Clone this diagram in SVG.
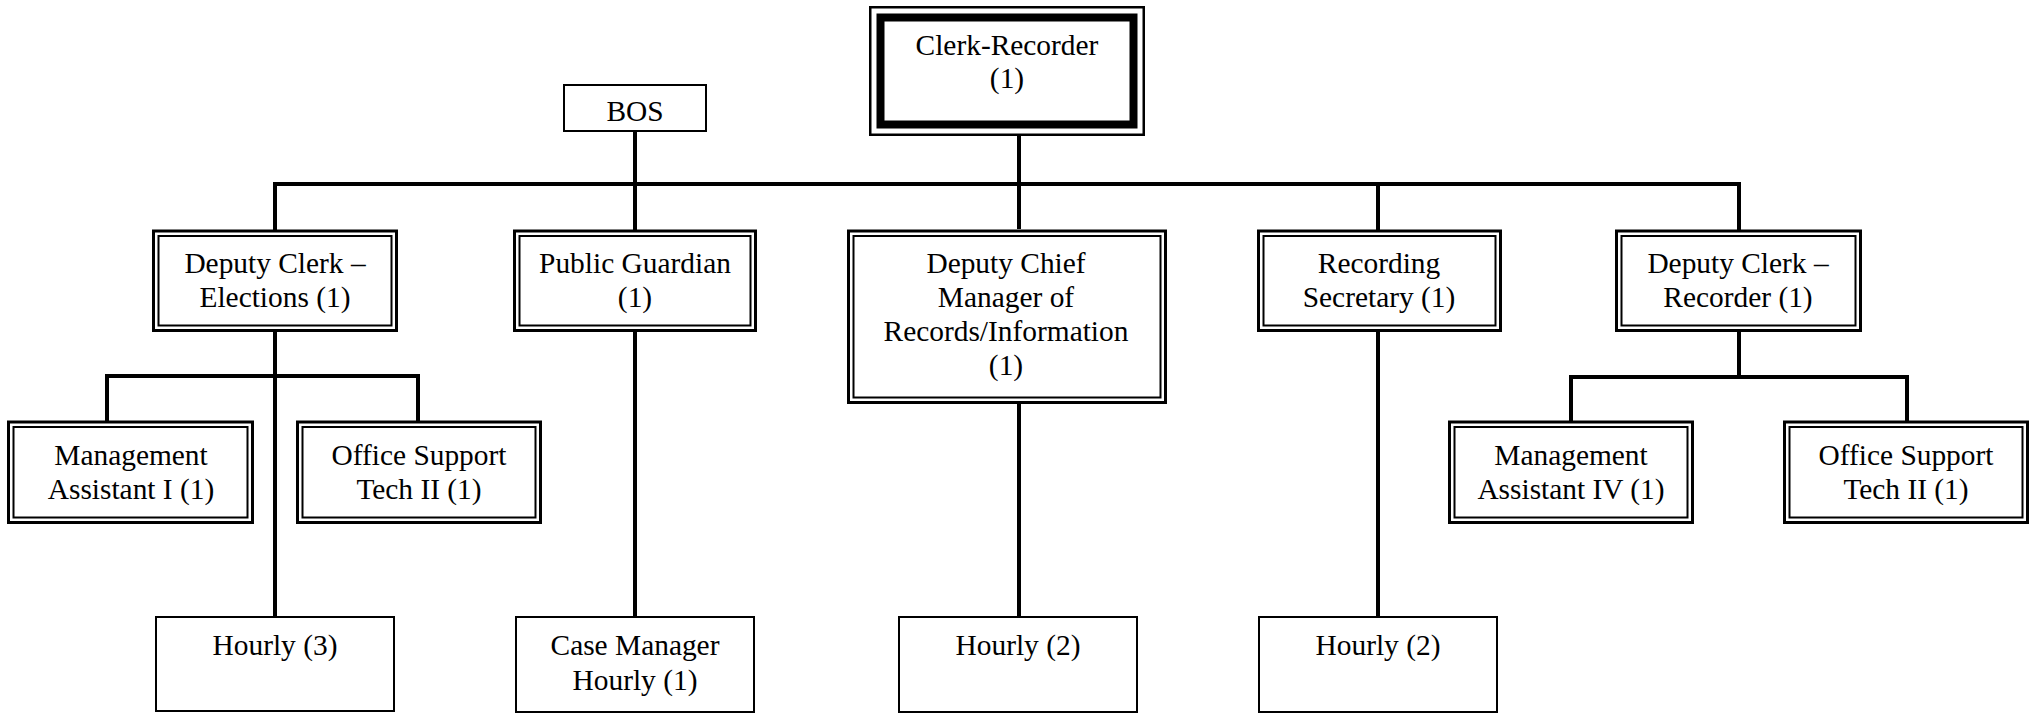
<svg xmlns="http://www.w3.org/2000/svg" width="2037" height="714" viewBox="0 0 2037 714">
<style>
.bg{fill:#fff}
.o{fill:#fff;stroke:#000;stroke-width:3}
.i{fill:none;stroke:#000;stroke-width:2}
.s{fill:#fff;stroke:#000;stroke-width:2}
.c{fill:none;stroke:#000;stroke-width:4;stroke-linejoin:miter}
text{font-family:"Liberation Serif","Times New Roman",serif;font-size:29.4px;fill:#000;text-anchor:middle}
</style>
<rect class="bg" x="0" y="0" width="2037" height="714"/>
<g id="connectors">
<path class="c" d="M1019 136V184"/>
<path class="c" d="M275 230V184H1739V230"/>
<path class="c" d="M1019 184V229"/>
<path class="c" d="M1378 184V230"/>
<path class="c" d="M635 131V230"/>
<path class="c" d="M275 332V616"/>
<path class="c" d="M107 421V376H418V421"/>
<path class="c" d="M635 332V616"/>
<path class="c" d="M1019 404V616"/>
<path class="c" d="M1378 332V616"/>
<path class="c" d="M1739 332V377"/>
<path class="c" d="M1571 421V377H1907V421"/>
</g>
<g id="clerk-recorder">
<rect x="870.25" y="7.25" width="273.5" height="127.5" fill="#fff" stroke="#000" stroke-width="2.5"/>
<rect x="880.5" y="17.5" width="253" height="107" fill="none" stroke="#000" stroke-width="8"/>
<text x="1007" y="55">Clerk-Recorder</text>
<text x="1007" y="88">(1)</text>
</g>
<g id="bos">
<rect class="s" x="564" y="85" width="142" height="46"/>
<text x="635" y="121">BOS</text>
</g>
<g id="deputy-clerk-elections">
<rect class="o" x="153.5" y="231" width="243" height="99.5"/>
<rect class="i" x="158.5" y="236" width="233" height="89.5"/>
<text x="275" y="273">Deputy Clerk –</text>
<text x="275" y="307">Elections (1)</text>
</g>
<g id="public-guardian">
<rect class="o" x="514.5" y="231" width="241" height="99.5"/>
<rect class="i" x="519.5" y="236" width="231" height="89.5"/>
<text x="635" y="273">Public Guardian</text>
<text x="635" y="307">(1)</text>
</g>
<g id="deputy-chief">
<rect class="o" x="848.5" y="231" width="317" height="171.5"/>
<rect class="i" x="853.5" y="236" width="307" height="161.5"/>
<text x="1006" y="273">Deputy Chief</text>
<text x="1006" y="307">Manager of</text>
<text x="1006" y="341">Records/Information</text>
<text x="1006" y="375">(1)</text>
</g>
<g id="recording-secretary">
<rect class="o" x="1258.5" y="231" width="242" height="99.5"/>
<rect class="i" x="1263.5" y="236" width="232" height="89.5"/>
<text x="1379" y="273">Recording</text>
<text x="1379" y="307">Secretary (1)</text>
</g>
<g id="deputy-clerk-recorder">
<rect class="o" x="1616.5" y="231" width="244" height="99.5"/>
<rect class="i" x="1621.5" y="236" width="234" height="89.5"/>
<text x="1738" y="273">Deputy Clerk –</text>
<text x="1738" y="307">Recorder (1)</text>
</g>
<g id="management-assistant-i">
<rect class="o" x="8.5" y="422" width="244" height="100.5"/>
<rect class="i" x="13.5" y="427" width="234" height="90.5"/>
<text x="131" y="465">Management</text>
<text x="131" y="499">Assistant I (1)</text>
</g>
<g id="office-support-tech-ii-left">
<rect class="o" x="297.5" y="422" width="243" height="100.5"/>
<rect class="i" x="302.5" y="427" width="233" height="90.5"/>
<text x="419" y="465">Office Support</text>
<text x="419" y="499">Tech II (1)</text>
</g>
<g id="management-assistant-iv">
<rect class="o" x="1449.5" y="422" width="243" height="100.5"/>
<rect class="i" x="1454.5" y="427" width="233" height="90.5"/>
<text x="1571" y="465">Management</text>
<text x="1571" y="499">Assistant IV (1)</text>
</g>
<g id="office-support-tech-ii-right">
<rect class="o" x="1784.5" y="422" width="243" height="100.5"/>
<rect class="i" x="1789.5" y="427" width="233" height="90.5"/>
<text x="1906" y="465">Office Support</text>
<text x="1906" y="499">Tech II (1)</text>
</g>
<g id="hourly-3">
<rect class="s" x="156" y="617" width="238" height="94"/>
<text x="275" y="655">Hourly (3)</text>
</g>
<g id="case-manager-hourly">
<rect class="s" x="516" y="617" width="238" height="95"/>
<text x="635" y="655">Case Manager</text>
<text x="635" y="690">Hourly (1)</text>
</g>
<g id="hourly-2-a">
<rect class="s" x="899" y="617" width="238" height="95"/>
<text x="1018" y="655">Hourly (2)</text>
</g>
<g id="hourly-2-b">
<rect class="s" x="1259" y="617" width="238" height="95"/>
<text x="1378" y="655">Hourly (2)</text>
</g>
</svg>
